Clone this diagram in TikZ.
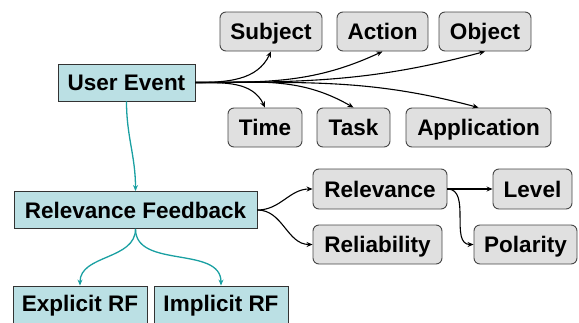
\documentclass[tikz,border=0pt]{standalone}
\usepackage{fontspec}
\setmainfont{Liberation Sans}
\usetikzlibrary{arrows.meta}
\definecolor{cyanfill}{RGB}{187,224,228}
\definecolor{tealline}{RGB}{26,160,162}
\definecolor{grayfill}{RGB}{224,224,224}
\definecolor{grayborder}{RGB}{70,70,70}
\tikzset{
  lbl/.style={font=\fontsize{22.5}{26}\selectfont\bfseries, inner sep=0pt, text height=16.2pt, text depth=0pt},
  cbox/.style={lbl, draw=black!80, fill=cyanfill, line width=0.9pt},
  gbox/.style={lbl, draw=grayborder, fill=grayfill, rounded corners=6pt, line width=0.9pt},
  blk/.style={draw=black, line width=1.1pt, -{Stealth[length=6pt,width=5pt]}},
  tea/.style={draw=tealline, line width=1.3pt, -{Stealth[length=6pt,width=5pt]}}
}
\begin{document}
\begin{tikzpicture}[x=1pt,y=-1pt]
\useasboundingbox (0,0) rectangle (579,322);
% cyan boxes
\node[cbox, minimum width=137pt, minimum height=37pt] (ue) at (126.5,82.5) {User Event};
\node[cbox, minimum width=243pt, minimum height=37pt] (rf) at (135.5,210) {Relevance Feedback};
\node[cbox, minimum width=134pt, minimum height=50pt] (ex) at (80,311) {};
\node[lbl] at (80,303.5) {Explicit RF};
\node[cbox, minimum width=134pt, minimum height=50pt] (im) at (221,311) {};
\node[lbl] at (221,303.5) {Implicit RF};
% gray boxes
\node[gbox, minimum width=102pt, minimum height=39pt] (subj) at (271,31.5) {Subject};
\node[gbox, minimum width=91pt, minimum height=39pt] (act) at (382.5,31.5) {Action};
\node[gbox, minimum width=92pt, minimum height=39pt] (obj) at (485,31.5) {Object};
\node[gbox, minimum width=74pt, minimum height=39pt] (time) at (265,127.5) {Time};
\node[gbox, minimum width=73pt, minimum height=39pt] (task) at (353.5,127.5) {Task};
\node[gbox, minimum width=145pt, minimum height=39pt] (app) at (478.5,127.5) {Application};
\node[gbox, minimum width=134pt, minimum height=40pt] (rel) at (380,189) {Relevance};
\node[gbox, minimum width=129pt, minimum height=39pt] (reli) at (377.5,244.5) {Reliability};
\node[gbox, minimum width=79pt, minimum height=40pt] (lev) at (532.5,189) {Level};
\node[gbox, minimum width=103pt, minimum height=39pt] (pol) at (525.5,244.5) {Polarity};
% black connectors
\coordinate (ueo) at (ue.east);
\draw[blk] (ueo) to[out=0,in=-115] (subj.south);
\draw[blk] (ueo) to[out=0,in=-155] (act.south);
\draw[blk] (ueo) to[out=0,in=-165] (obj.south);
\draw[blk] (ueo) to[out=0,in=115] (time.north);
\draw[blk] (ueo) to[out=0,in=150] (task.north);
\draw[blk] (ueo) to[out=0,in=165] (app.north);
\draw[blk] (rf.east) to[out=0,in=180] (rel.west);
\draw[blk] (rf.east) to[out=0,in=180] (reli.west);
\draw[blk] (rel.east) -- (lev.west);
\draw[blk] (rel.east) to[out=0,in=180] (pol.west);
% teal connectors
\draw[tea] (ue.south) to[out=-90,in=90] (rf.north);
\draw[tea] (rf.south) to[out=-90,in=90] (ex.north);
\draw[tea] (rf.south) to[out=-90,in=90] (im.north);
\end{tikzpicture}
\end{document}
